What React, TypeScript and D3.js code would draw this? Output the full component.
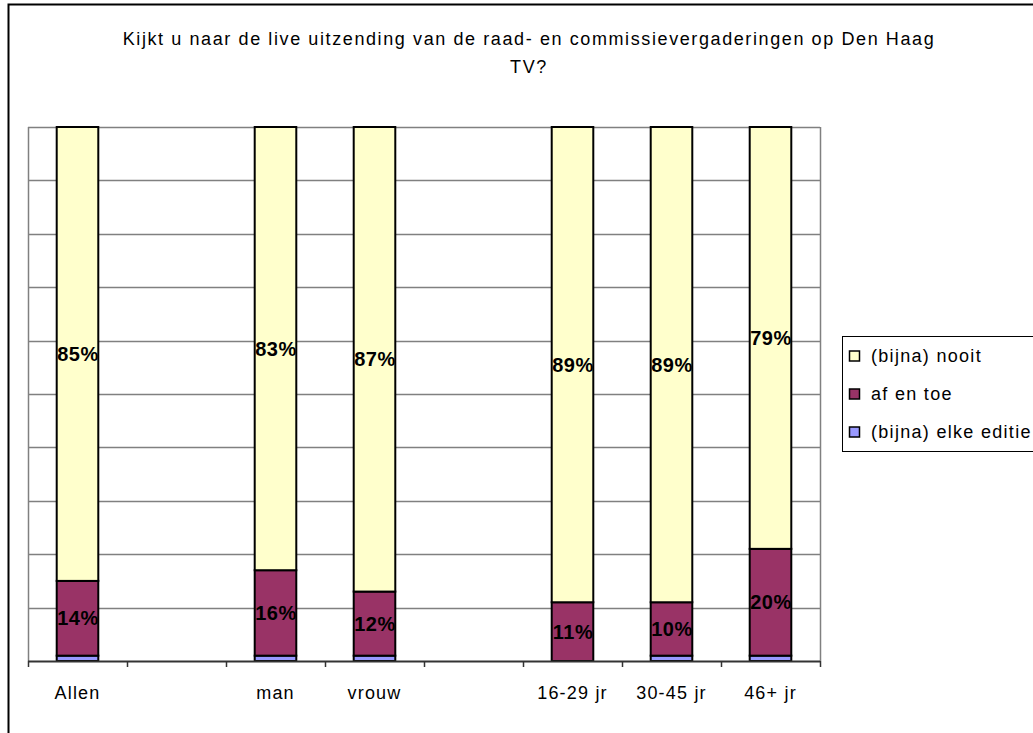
import React, { useRef, useEffect } from 'react';
import * as d3 from 'd3';

const categories = ['Allen', '', 'man', 'vrouw', '', '16-29 jr', '30-45 jr', '46+ jr'];
const elkeEditie = [1, null, 1, 1, null, 0, 1, 1];
const afEnToe = [14, null, 16, 12, null, 11, 10, 20];
const nooit = [85, null, 83, 87, null, 89, 89, 79];
const seriesNames = ['(bijna) nooit', 'af en toe', '(bijna) elke editie'];
const seriesColors = ['#FFFFCC', '#993366', '#9999FF'];
const yTicks = [0, 10, 20, 30, 40, 50, 60, 70, 80, 90, 100];
const title = ['Kijkt u naar de live uitzending van de raad- en commissievergaderingen op Den Haag', 'TV?'];

const FONT = 'Arial, "Liberation Sans", sans-serif';

function App() {
  const svgRef = useRef<SVGSVGElement>(null);

  useEffect(() => {
    const svg = d3.select(svgRef.current);
    svg.selectAll('*').remove();

    const left = 28, right = 820, top = 127, bottom = 661;

    const x = d3.scaleBand<string>()
      .domain(categories.map((d, i) => String(i)))
      .range([left, right])
      .padding(0);
    const y = d3.scaleLinear().domain([0, 100]).range([bottom, top]);
    const barW = x.bandwidth() * 0.42;

    // chart frame
    svg.append('rect')
      .attr('x', 8.5).attr('y', 4.5)
      .attr('width', 1100).attr('height', 800)
      .attr('fill', '#fff').attr('stroke', '#000').attr('stroke-width', 2);

    // title
    svg.append('g')
      .selectAll('text')
      .data(title)
      .join('text')
      .attr('x', 529)
      .attr('y', (d, i) => 45 + i * 28)
      .attr('text-anchor', 'middle')
      .attr('font-family', FONT)
      .attr('font-size', 18)
      .attr('letter-spacing', 1.6)
      .text((d) => d);

    // gridlines
    svg.append('g')
      .selectAll('line')
      .data(yTicks.slice(1))
      .join('line')
      .attr('x1', left).attr('x2', right)
      .attr('y1', (d) => Math.round(y(d)) + 0.5)
      .attr('y2', (d) => Math.round(y(d)) + 0.5)
      .attr('stroke', '#808080').attr('stroke-width', 1.5);

    // plot border (left, right)
    [left, right].forEach((xx) => {
      svg.append('line')
        .attr('x1', xx + 0.5).attr('x2', xx + 0.5)
        .attr('y1', top).attr('y2', bottom)
        .attr('stroke', '#808080').attr('stroke-width', 1.5);
    });

    // stacked bars
    const rows = categories.map((c, i) => ({
      i: String(i),
      elke: elkeEditie[i] ?? 0,
      af: afEnToe[i] ?? 0,
      nooit: nooit[i] ?? 0,
      empty: nooit[i] == null,
    }));
    const keys = ['elke', 'af', 'nooit'];
    const colorByKey: Record<string, string> = {
      nooit: seriesColors[0],
      af: seriesColors[1],
      elke: seriesColors[2],
    };
    const stacked = d3.stack<any>().keys(keys)(rows);

    const g = svg.append('g');
    stacked.forEach((layer) => {
      g.append('g')
        .selectAll('rect')
        .data(layer.filter((d) => !d.data.empty && d[1] - d[0] > 0))
        .join('rect')
        .attr('x', (d) => x(d.data.i)! + (x.bandwidth() - barW) / 2)
        .attr('y', (d) => y(d[1]))
        .attr('width', barW)
        .attr('height', (d) => y(d[0]) - y(d[1]))
        .attr('fill', colorByKey[layer.key])
        .attr('stroke', '#000')
        .attr('stroke-width', 2);
    });

    // value labels
    stacked.filter((l) => l.key !== 'elke').forEach((layer) => {
      g.append('g')
        .selectAll('text')
        .data(layer.filter((d) => !d.data.empty))
        .join('text')
        .attr('x', (d) => x(d.data.i)! + x.bandwidth() / 2 + 0.5)
        .attr('y', (d) => (y(d[0]) + y(d[1])) / 2)
        .attr('dy', '0.35em')
        .attr('text-anchor', 'middle')
        .attr('font-family', FONT)
        .attr('font-weight', 'bold')
        .attr('font-size', 20)
        .attr('letter-spacing', 0.5)
        .text((d) => `${d[1] - d[0]}%`);
    });

    // x axis
    const xAxis = d3.axisBottom(x).tickSize(0).tickFormat((d) => categories[+d]);
    const axisG = svg.append('g')
      .attr('transform', `translate(0,${bottom})`)
      .call(xAxis);
    axisG.select('.domain').remove();
    axisG.selectAll('text')
      .attr('font-family', FONT)
      .attr('font-size', 18)
      .attr('letter-spacing', 1.2)
      .attr('fill', '#000')
      .attr('dy', 0)
      .attr('y', 38);
    svg.append('line')
      .attr('x1', left).attr('x2', right)
      .attr('y1', bottom + 0.5).attr('y2', bottom + 0.5)
      .attr('stroke', '#333').attr('stroke-width', 2);
    svg.append('g')
      .selectAll('line')
      .data(d3.range(categories.length + 1))
      .join('line')
      .attr('x1', (d) => left + d * x.step() + 0.5)
      .attr('x2', (d) => left + d * x.step() + 0.5)
      .attr('y1', bottom).attr('y2', bottom + 6)
      .attr('stroke', '#333').attr('stroke-width', 1.5);

    // legend
    svg.append('rect')
      .attr('x', 842.5).attr('y', 336.5)
      .attr('width', 250).attr('height', 115)
      .attr('fill', '#fff').attr('stroke', '#000').attr('stroke-width', 1);
    const lg = svg.append('g')
      .selectAll('g')
      .data(seriesNames)
      .join('g')
      .attr('transform', (d, i) => `translate(849,${356 + i * 38})`);
    lg.append('rect')
      .attr('x', 0.5).attr('y', -5)
      .attr('width', 10).attr('height', 10)
      .attr('fill', (d, i) => seriesColors[i])
      .attr('stroke', '#000').attr('stroke-width', 1.5);
    lg.append('text')
      .attr('x', 22).attr('y', 0)
      .attr('dy', '0.35em')
      .attr('font-family', FONT)
      .attr('font-size', 18)
      .attr('letter-spacing', 1.3)
      .text((d) => d);
  }, []);

  return (
    <div style={{ position: 'absolute', left: 0, top: 0 }}>
      <svg ref={svgRef} width={1033} height={733} />
    </div>
  );
}

export default App;
